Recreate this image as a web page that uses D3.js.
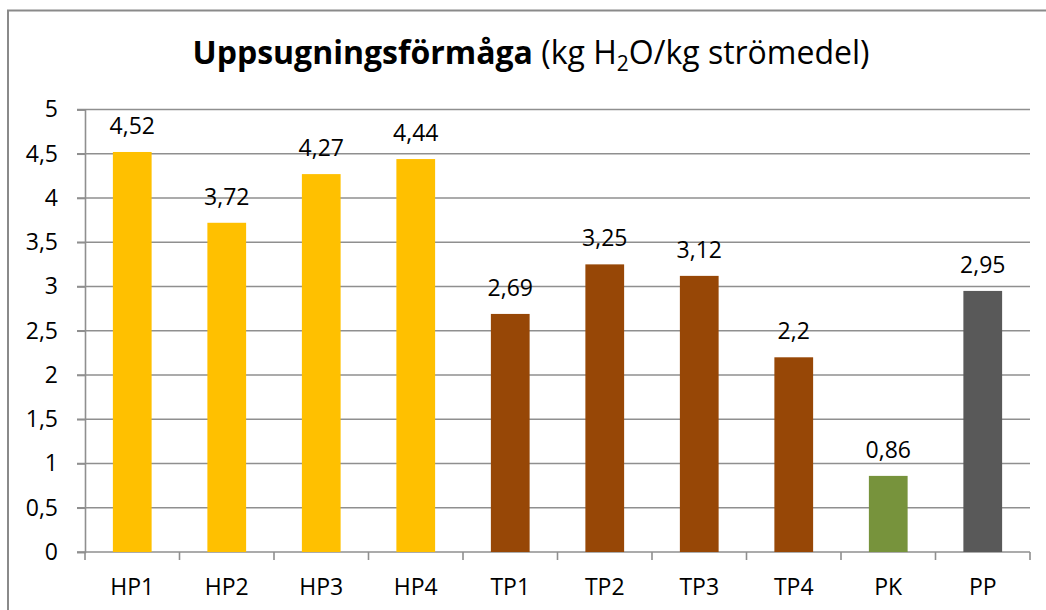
<!DOCTYPE html>
<html>
<head>
<meta charset="utf-8">
<script src="https://cdn.jsdelivr.net/npm/d3@7"></script>
<style>
  html, body { margin: 0; padding: 0; background: #fff; }
  svg { display: block; font-family: "Open Sans", sans-serif; }
</style>
</head>
<body>
<div id="chart"></div>
<script>
// data
const categories = ["HP1", "HP2", "HP3", "HP4", "TP1", "TP2", "TP3", "TP4", "PK", "PP"];
const values = [4.52, 3.72, 4.27, 4.44, 2.69, 3.25, 3.12, 2.2, 0.86, 2.95];
const groups = ["HP", "HP", "HP", "HP", "TP", "TP", "TP", "TP", "PK", "PP"];
const yTicks = [0, 0.5, 1, 1.5, 2, 2.5, 3, 3.5, 4, 4.5, 5];

const width = 1046, height = 610;
const margin = {top: 109.5, right: 16, bottom: 58, left: 85};
const fs = 23;

const color = d3.scaleOrdinal()
  .domain(["HP", "TP", "PK", "PP"])
  .range(["#FFC000", "#974706", "#77933C", "#595959"]);

const svg = d3.select("#chart").append("svg")
  .attr("width", width)
  .attr("height", height);

// ram runt diagrammet
svg.append("rect")
  .attr("x", 8).attr("y", 10.5)
  .attr("width", width + 10).attr("height", height + 10)
  .attr("fill", "none")
  .attr("stroke", "#8a8a8a")
  .attr("stroke-width", 2);

const x = d3.scaleBand()
  .domain(categories)
  .range([margin.left, width - margin.right])
  .paddingInner(0.59)
  .paddingOuter(0.295);

const xTicksScale = d3.scaleBand()
  .domain(categories)
  .range([margin.left, width - margin.right]);

const y = d3.scaleLinear()
  .domain([0, 5])
  .range([height - margin.bottom, margin.top]);

// rutnät
svg.append("g")
  .selectAll("line")
  .data(yTicks.filter(d => d > 0))
  .join("line")
  .attr("x1", margin.left - 8)
  .attr("x2", width - margin.right)
  .attr("y1", d => y(d))
  .attr("y2", d => y(d))
  .attr("stroke", "#8f8f8f")
  .attr("stroke-width", 1.6);

// y-axel
const yAxis = svg.append("g")
  .attr("transform", `translate(${margin.left},0)`)
  .call(d3.axisLeft(y)
    .tickValues(yTicks)
    .tickSize(8)
    .tickPadding(19)
    .tickFormat(d => String(d).replace(".", ",")));
yAxis.select(".domain").attr("stroke", "#8f8f8f").attr("stroke-width", 1.6);
yAxis.selectAll(".tick line").attr("stroke", "#8f8f8f").attr("stroke-width", 1.6);
yAxis.selectAll("text")
  .attr("font-size", fs)
  .attr("font-family", "Open Sans, sans-serif")
  .attr("fill", "#000");

// x-axel
svg.append("line")
  .attr("x1", margin.left - 8).attr("x2", width - margin.right)
  .attr("y1", y(0)).attr("y2", y(0))
  .attr("stroke", "#8f8f8f").attr("stroke-width", 1.6);
svg.append("g")
  .selectAll("line")
  .data(categories.map(c => xTicksScale(c)).concat([width - margin.right]))
  .join("line")
  .attr("x1", d => d).attr("x2", d => d)
  .attr("y1", y(0)).attr("y2", y(0) + 8)
  .attr("stroke", "#8f8f8f").attr("stroke-width", 1.6);

svg.append("g")
  .selectAll("text")
  .data(categories)
  .join("text")
  .attr("x", d => xTicksScale(d) + xTicksScale.bandwidth() / 2)
  .attr("y", y(0) + 43)
  .attr("text-anchor", "middle")
  .attr("font-size", fs)
  .attr("fill", "#000")
  .text(d => d);

// staplar
svg.append("g")
  .selectAll("rect")
  .data(values)
  .join("rect")
  .attr("x", (d, i) => x(categories[i]))
  .attr("width", x.bandwidth())
  .attr("y", d => y(d))
  .attr("height", d => y(0) - y(d))
  .attr("fill", (d, i) => color(groups[i]));

// värden
svg.append("g")
  .selectAll("text")
  .data(values)
  .join("text")
  .attr("x", (d, i) => x(categories[i]) + x.bandwidth() / 2)
  .attr("y", d => y(d) - 18)
  .attr("text-anchor", "middle")
  .attr("font-size", fs)
  .attr("fill", "#000")
  .text(d => String(d).replace(".", ","));

// titel
const title = svg.append("text")
  .attr("x", 531)
  .attr("y", 64)
  .attr("text-anchor", "middle")
  .attr("font-size", 32)
  .attr("fill", "#000");
title.append("tspan").attr("font-weight", "bold").text("Uppsugningsförmåga");
title.append("tspan").text(" (kg H");
title.append("tspan").attr("font-size", 21).attr("dy", 7).text("2");
title.append("tspan").attr("dy", -7).text("O/kg strömedel)");
</script>
</body>
</html>
